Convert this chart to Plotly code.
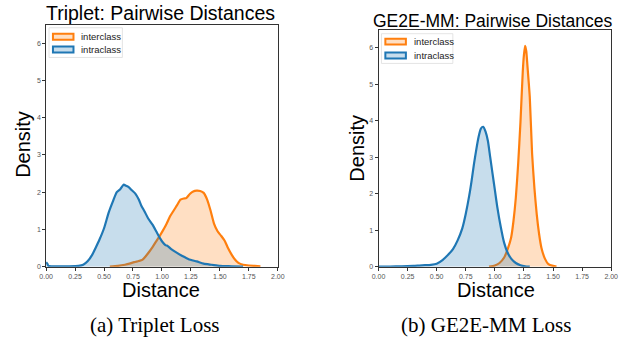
import plotly.graph_objects as go

W, H = 627, 341

# ---------------- data ----------------
trip_intra_x = [0.00, 0.01, 0.02, 0.05, 0.10, 0.20, 0.28, 0.32, 0.36, 0.40, 0.43, 0.46, 0.50, 0.54,
                0.58, 0.61, 0.64, 0.67, 0.69, 0.71, 0.74, 0.77, 0.80, 0.82, 0.85, 0.88, 0.92, 0.95,
                0.98, 1.01, 1.03, 1.05, 1.08, 1.13, 1.18, 1.23, 1.30, 1.36, 1.43, 1.50, 1.60, 1.70]
trip_intra_y = [0.12, 0.08, 0.02, 0.01, 0.01, 0.01, 0.02, 0.05, 0.15, 0.33, 0.52, 0.72, 1.03, 1.45,
                1.78, 2.00, 2.08, 2.20, 2.17, 2.14, 2.05, 1.96, 1.80, 1.65, 1.48, 1.30, 1.12, 0.95,
                0.78, 0.64, 0.58, 0.55, 0.47, 0.37, 0.28, 0.20, 0.14, 0.08, 0.05, 0.02, 0.01, 0.00]

trip_inter_x = [0.55, 0.62, 0.68, 0.72, 0.76, 0.80, 0.83, 0.86, 0.89, 0.92, 0.95, 0.98, 1.01, 1.04,
                1.07, 1.10, 1.13, 1.16, 1.19, 1.21, 1.24, 1.27, 1.30, 1.33, 1.36, 1.39, 1.42, 1.45,
                1.48, 1.51, 1.54, 1.57, 1.60, 1.63, 1.66, 1.70, 1.75, 1.80, 1.85]
trip_inter_y = [0.00, 0.02, 0.05, 0.08, 0.12, 0.15, 0.18, 0.28, 0.40, 0.53, 0.68, 0.82, 0.98, 1.15,
                1.35, 1.50, 1.65, 1.80, 1.83, 1.84, 1.95, 2.02, 2.04, 2.03, 1.98, 1.80, 1.50, 1.15,
                0.95, 0.83, 0.70, 0.50, 0.33, 0.19, 0.10, 0.05, 0.03, 0.02, 0.01]

mm_intra_x = [0.00, 0.10, 0.20, 0.30, 0.35, 0.40, 0.45, 0.50, 0.55, 0.60, 0.64, 0.68, 0.72, 0.75,
              0.78, 0.80, 0.82, 0.84, 0.86, 0.88, 0.90, 0.92, 0.94, 0.96, 0.98, 1.00, 1.02, 1.05,
              1.08, 1.11, 1.14, 1.18, 1.22, 1.26, 1.30]
mm_intra_y = [0.00, 0.00, 0.01, 0.02, 0.03, 0.04, 0.05, 0.08, 0.18, 0.33, 0.48, 0.72, 1.05, 1.45,
              1.95, 2.35, 2.80, 3.20, 3.55, 3.78, 3.83, 3.70, 3.45, 3.00, 2.55, 2.10, 1.65, 1.10,
              0.65, 0.38, 0.22, 0.10, 0.04, 0.01, 0.00]

mm_inter_x = [0.95, 1.00, 1.04, 1.08, 1.11, 1.14, 1.16, 1.18, 1.20, 1.22, 1.24, 1.25, 1.26, 1.27,
              1.28, 1.30, 1.32, 1.34, 1.36, 1.38, 1.40, 1.43, 1.46, 1.50, 1.53]
mm_inter_y = [0.00, 0.03, 0.10, 0.25, 0.48, 0.80, 1.25, 1.88, 2.80, 3.95, 5.35, 5.80, 6.05, 5.90,
              5.50, 4.65, 3.10, 2.15, 1.43, 0.90, 0.52, 0.22, 0.07, 0.02, 0.00]

x_ticks = [0.0, 0.25, 0.5, 0.75, 1.0, 1.25, 1.5, 1.75, 2.0]
y_ticks = [0, 1, 2, 3, 4, 5, 6]
titles = ["Triplet: Pairwise Distances", "GE2E-MM: Pairwise Distances"]
captions = ["(a) Triplet Loss", "(b) GE2E-MM Loss"]
series_names = ["interclass", "intraclass"]

BLUE = "#1f77b4"
ORANGE = "#ff7f0e"
BLUE_F = "rgba(31,119,180,0.25)"
ORANGE_F = "rgba(255,127,14,0.25)"


def px(x):
    return x / W


def py(y):
    return 1 - y / H


fig = go.Figure()


def add_kde(x, y, color, fill, xa, ya, name):
    fig.add_trace(go.Scatter(x=x, y=y, mode="lines", name=name,
                             line=dict(color=color, width=2.2, shape="spline", smoothing=0.6),
                             fill="tozeroy", fillcolor=fill, xaxis=xa, yaxis=ya,
                             showlegend=False, hoverinfo="skip"))


add_kde(trip_inter_x, trip_inter_y, ORANGE, ORANGE_F, "x", "y", series_names[0])
add_kde(trip_intra_x, trip_intra_y, BLUE, BLUE_F, "x", "y", series_names[1])
add_kde(mm_inter_x, mm_inter_y, ORANGE, ORANGE_F, "x2", "y2", series_names[0])
add_kde(mm_intra_x, mm_intra_y, BLUE, BLUE_F, "x2", "y2", series_names[1])

# panel geometry in pixels
panels = [
    dict(x0=40, x1=277, y0=25, y1=269),
    dict(x0=380, x1=618, y0=30, y1=269),
]

axis_common = dict(showline=True, mirror=True, linecolor="#333333", linewidth=0.8,
                   ticks="outside", ticklen=3, tickwidth=0.8, tickcolor="#333333",
                   tickfont=dict(family="Liberation Sans", size=7, color="#555555"),
                   showgrid=False, zeroline=False, fixedrange=True)

# y range so that tick 6 lands where the picture puts it
yr = []
for p, six in zip(panels, [43.5, 48]):
    per = (p["y1"] - six) / 6.0
    yr.append((p["y1"] - p["y0"]) / per)

layout_axes = {}
for i, p in enumerate(panels):
    sx = "" if i == 0 else "2"
    layout_axes["xaxis" + sx] = dict(axis_common, domain=[px(p["x0"]), px(p["x1"])],
                                     range=[0, 2], tickvals=x_ticks,
                                     ticktext=[f"{v:.2f}" for v in x_ticks],
                                     anchor="y" + sx)
    layout_axes["yaxis" + sx] = dict(axis_common, domain=[py(p["y1"]), py(p["y0"])],
                                     range=[0, yr[i]], tickvals=y_ticks,
                                     ticktext=[str(v) for v in y_ticks],
                                     anchor="x" + sx)

fig.update_layout(width=W, height=H, margin=dict(l=0, r=0, t=0, b=0),
                  paper_bgcolor="white", plot_bgcolor="white", showlegend=False,
                  **layout_axes)

ann = []
title_spec = [(157, 13.5, 19.5), (496.5, 21.5, 17.5)]
for t, (x, y, fs) in zip(titles, title_spec):
    ann.append(dict(text=t, x=px(x), y=py(y), xref="paper", yref="paper", showarrow=False,
                    xanchor="center", yanchor="middle",
                    font=dict(family="Liberation Sans", size=fs, color="black")))
for x in (158, 500):
    ann.append(dict(text="Distance", x=px(x), y=py(293), xref="paper", yref="paper",
                    showarrow=False, xanchor="center", yanchor="middle",
                    font=dict(family="Liberation Sans", size=20, color="black")))
for x, y in ((17, 145.5), (358, 150)):
    ann.append(dict(text="Density", x=px(x), y=py(y), xref="paper", yref="paper",
                    showarrow=False, xanchor="center", yanchor="middle", textangle=-90,
                    font=dict(family="Liberation Sans", size=20, color="black")))
for c, x in zip(captions, (151, 490)):
    ann.append(dict(text=c, x=px(x), y=py(328), xref="paper", yref="paper",
                    showarrow=False, xanchor="center", yanchor="middle",
                    font=dict(family="Liberation Serif", size=21, color="black")))

shapes = []
legends = [
    dict(box=(43, 28, 118, 58), px0=47, px1=68, rows=(37, 50), tx=74),
    dict(box=(383, 34, 456, 64), px0=387, px1=408, rows=(42, 56), tx=414),
]
for lg in legends:
    bx0, by0, bx1, by1 = lg["box"]
    shapes.append(dict(type="rect", xref="paper", yref="paper",
                       x0=px(bx0), x1=px(bx1), y0=py(by1), y1=py(by0),
                       line=dict(color="#dddddd", width=0.8), fillcolor="rgba(255,255,255,0.8)",
                       layer="above"))
    for name, row, col, fcol in zip(series_names, lg["rows"], (ORANGE, BLUE), (ORANGE_F, BLUE_F)):
        shapes.append(dict(type="rect", xref="paper", yref="paper",
                           x0=px(lg["px0"]), x1=px(lg["px1"]), y0=py(row + 3), y1=py(row - 3),
                           line=dict(color=col, width=2), fillcolor=fcol, layer="above"))
        ann.append(dict(text=name, x=px(lg["tx"]), y=py(row), xref="paper", yref="paper",
                        showarrow=False, xanchor="left", yanchor="middle",
                        font=dict(family="Liberation Sans", size=9.5, color="#222222")))

fig.update_layout(annotations=ann, shapes=shapes)
fig.write_html("out.html", config={"displayModeBar": False},
               post_script="document.body.style.margin='0px';")
